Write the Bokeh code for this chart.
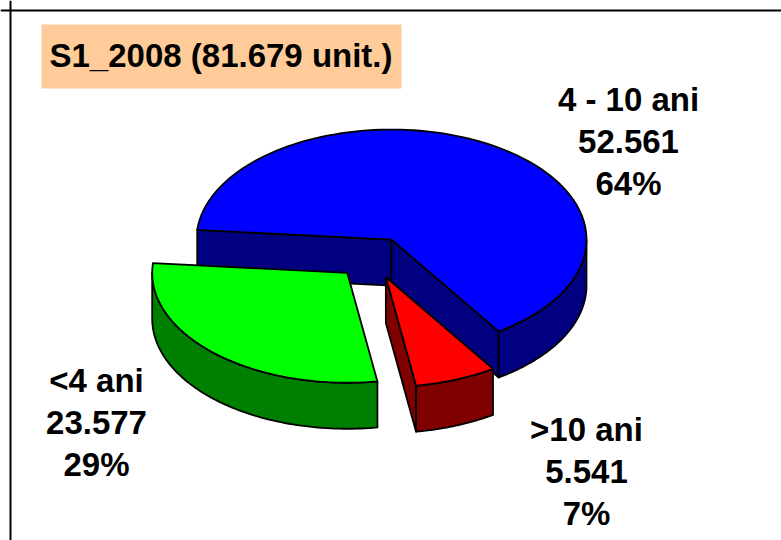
import numpy as np
from bokeh.plotting import figure
from bokeh.models import Range1d, Label, Span, ColumnDataSource
from bokeh.core.properties import value
from bokeh.embed import file_html
from bokeh.resources import INLINE

# ---------------- data ----------------
period = "S1_2008"
categories = ["4 - 10 ani", ">10 ani", "<4 ani"]
units = [52561, 5541, 23577]
top_colors = ["#0000FF", "#FF0000", "#00FF00"]
side_colors = ["#000080", "#800000", "#008000"]

# ---------------- layout ----------------
W, H = 781, 540
CX, CY = 372, 257          # pie centre (screen-like coords)
RX, RY = 195, 110          # ellipse radii
DEPTH = 46                 # thickness of the pie
EXPLODE = 0.19             # explosion as fraction of radius
START_DEG = 175.0          # first slice starts here, slices go clockwise
label_anchor = [(628, 141), (586, 471), (96, 422)]
LINE_GAP = 42
FONT = value("Liberation Sans")
FONT_SIZE = "33px"


def fmt(n):
    return f"{n:,}".replace(",", ".")


total = sum(units)
pcts = [round(u / total * 100) for u in units]

p = figure(width=W, height=H, x_range=Range1d(0, W), y_range=Range1d(H, 0),
           output_backend="svg", toolbar_location=None, min_border=0,
           x_axis_type=None, y_axis_type=None)
p.grid.visible = False
p.outline_line_color = None
p.background_fill_color = "white"
p.border_fill_color = "white"


def pt(cx, cy, t, dz=0.0):
    return cx + RX * np.cos(t), cy - RY * np.sin(t) + dz


xs, ys, fills = [], [], []
start = np.deg2rad(START_DEG)
for i, u in enumerate(units):
    sweep = 2 * np.pi * u / total
    s = start
    e = start - sweep
    start = e
    mid = (s + e) / 2
    cx = CX + EXPLODE * RX * np.cos(mid)
    cy = CY - EXPLODE * RY * np.sin(mid)

    # cut faces
    faces = []
    if np.cos(s) < 0:
        faces.append(s)
    if np.cos(e) > 0:
        faces.append(e)
    for t in faces:
        rx, ry = pt(cx, cy, t)
        xs.append([cx, rx, rx, cx])
        ys.append([cy, ry, ry + DEPTH, cy + DEPTH])
        fills.append(side_colors[i])

    # outer front wall
    for k in (-1, 0, 1):
        lo = max(e, -np.pi + 2 * np.pi * k)
        hi = min(s, 0 + 2 * np.pi * k)
        if hi > lo:
            ts = np.linspace(lo, hi, 80)
            tx, ty = pt(cx, cy, ts)
            bx, by = pt(cx, cy, ts[::-1], DEPTH)
            xs.append(list(tx) + list(bx))
            ys.append(list(ty) + list(by))
            fills.append(side_colors[i])

    # top face
    ts = np.linspace(s, e, 120)
    tx, ty = pt(cx, cy, ts)
    xs.append([cx] + list(tx))
    ys.append([cy] + list(ty))
    fills.append(top_colors[i])

src = ColumnDataSource(dict(xs=xs, ys=ys, fill=fills))
p.patches("xs", "ys", fill_color="fill", line_color="black", line_width=1.8,
          line_join="round", source=src)

# labels
lx, ly, lt = [], [], []
for i, cat in enumerate(categories):
    ax, ay = label_anchor[i]
    rows = [cat, fmt(units[i]), f"{pcts[i]}%"]
    for r, txt in zip((-1, 0, 1), rows):
        lx.append(ax)
        ly.append(ay + r * LINE_GAP)
        lt.append(txt)
p.text(x=lx, y=ly, text=lt, text_font=FONT, text_font_style="bold",
       text_font_size=FONT_SIZE, text_align="center", text_baseline="middle",
       text_color="black")

# title box  (padding order: left, right, top, bottom)
title = Label(x=41, y=56, text=f"{period} ({fmt(total)} unit.)",
              text_font="Liberation Sans", text_font_style="bold", text_font_size=FONT_SIZE,
              text_baseline="middle", text_align="left", text_color="black",
              background_fill_color="#FFCC99", padding=(8, 9, 12, 15))
p.add_layout(title)

# frame border (left and top visible in the window)
p.add_layout(Span(location=10, dimension="height", line_color="black", line_width=2))
p.add_layout(Span(location=10, dimension="width", line_color="black", line_width=2))

open("out.html", "w").write(file_html(p, INLINE))
